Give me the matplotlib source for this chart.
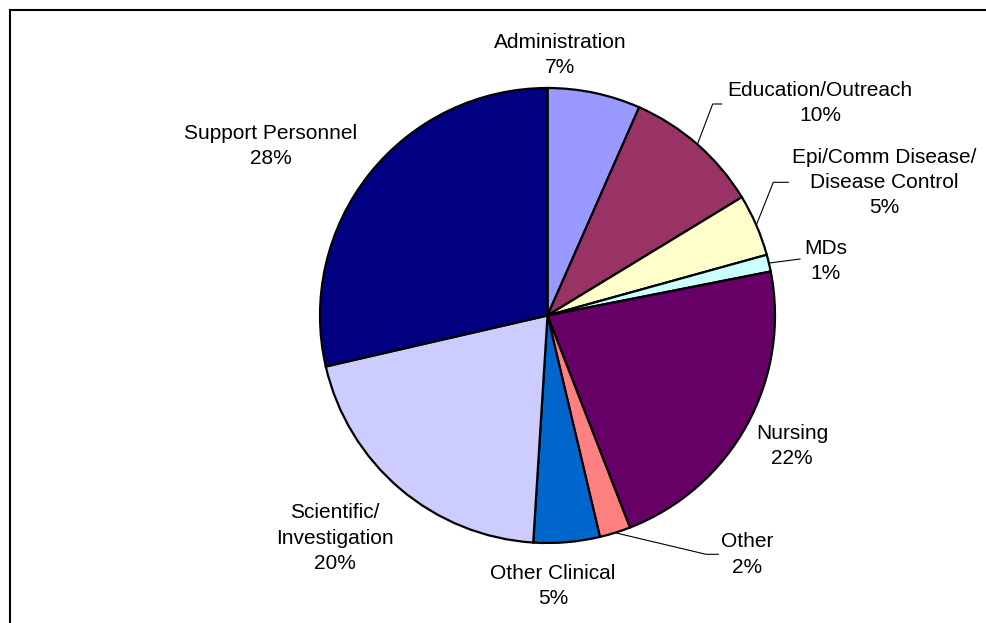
import numpy as np
import matplotlib.pyplot as plt
from matplotlib.lines import Line2D

# staff categories, clockwise from 12 o'clock
categories = ["Administration", "Education/Outreach", "Epi/Comm Disease/\nDisease Control",
              "MDs", "Nursing", "Other", "Other Clinical", "Scientific/\nInvestigation",
              "Support Personnel"]
shares = [6.6, 9.7, 4.4, 1.2, 22.2, 2.2, 4.7, 20.4, 28.6]
pct_labels = ["7%", "10%", "5%", "1%", "22%", "2%", "5%", "20%", "28%"]
colors = ["#9999FF", "#993366", "#FFFFCC", "#CCFFFF", "#660066",
          "#FF8080", "#0066CC", "#CCCCFF", "#000080"]

W, H = 986, 623
fig = plt.figure(figsize=(W / 100, H / 100), dpi=100)
ax = fig.add_axes([0, 0, 1, 1])

cx, cy, r = 547.5, H - 315.5, 227.5
wedges, _ = ax.pie(shares, colors=colors, startangle=90, counterclock=False,
                   center=(cx, cy), radius=r, frame=True,
                   wedgeprops=dict(edgecolor="black", linewidth=1.6))
ax.set_xlim(0, W)
ax.set_ylim(0, H)
ax.set_aspect("equal")
ax.axis("off")

# label centres in pixel coords (x, y from top)
label_pos = [(560, 55), (820, 103), (884, 182.5), (826, 261), (792, 446),
             (747, 554.5), (553, 586), (335, 538), (271, 146)]
for name, pct, (lx, ly) in zip(categories, pct_labels, label_pos):
    ax.text(lx, H - ly, name + "\n" + pct, ha="center", va="center",
            fontsize=15, family="Liberation Sans", linespacing=1.42)

# leader lines: from wedge mid-angle on the rim to the label
leaders = {1: [(712.7, 104), (721.7, 104)],
           2: [(773.3, 182.3), (788.3, 182.3)],
           3: [(800, 259)],
           5: [(706, 554.3), (718.3, 554.3)]}
for i, pts in leaders.items():
    w = wedges[i]
    mid = np.deg2rad((w.theta1 + w.theta2) / 2)
    xs = [cx + r * np.cos(mid)] + [p[0] for p in pts]
    ys = [cy + r * np.sin(mid)] + [H - p[1] for p in pts]
    ax.plot(xs, ys, color="black", linewidth=0.8)

# chart area frame (left and top edges visible)
fig.add_artist(Line2D([10 / W, 10 / W], [0, 1 - 10 / H], transform=fig.transFigure,
                      color="black", linewidth=1.5))
fig.add_artist(Line2D([10 / W, 1], [1 - 10 / H, 1 - 10 / H], transform=fig.transFigure,
                      color="black", linewidth=1.5))

fig.savefig("out.png", dpi=100)
